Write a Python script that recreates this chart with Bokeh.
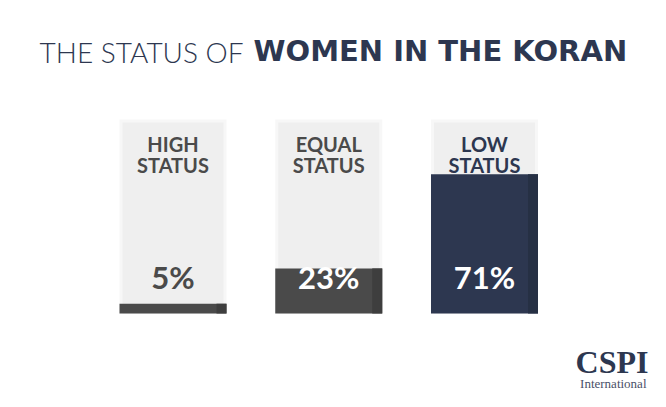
from bokeh.plotting import figure
from bokeh.models import Range1d, ColumnDataSource
from bokeh.core.properties import value
from bokeh.embed import file_html
from bokeh.resources import INLINE

# ---- data ----
categories = ["HIGH STATUS", "EQUAL STATUS", "LOW STATUS"]
percentages = [5, 23, 71]
title_light = "THE STATUS OF"
title_bold = "WOMEN IN THE KORAN"
logo_main = "CSPI"
logo_sub = "International"

# ---- styles ----
NAVY = "#2d3750"
GRAY = "#4a4a4a"
bar_colors = [GRAY, GRAY, NAVY]
shade_colors = ["#3e3e3e", "#3e3e3e", "#263044"]
label_colors = [GRAY, GRAY, NAVY]
pct_colors = [GRAY, "white", "white"]

W, H = 650, 391
p = figure(width=W, height=H, output_backend="svg", toolbar_location=None,
           x_range=Range1d(0, W), y_range=Range1d(H, 0),
           x_axis_type=None, y_axis_type=None, min_border=0,
           background_fill_color="white", border_fill_color="white")
p.outline_line_color = None
p.grid.visible = False

# percent scale: 0% at baseline, ~1.96 px per percentage point
base_px, px_per = 313, 1.96
p.extra_y_ranges = {"pct": Range1d(start=-(H - base_px) / px_per,
                                   end=base_px / px_per)}


def ty(baseline, fs):
    # text glyph baseline correction (empirical)
    return baseline - 0.42 * fs


n = len(categories)
centers = [172.5 + i * 155.75 for i in range(n)]

# background panels
p.quad(left=[c - 53.5 for c in centers], right=[c + 53.5 for c in centers],
       top=[119] * n, bottom=[base_px] * n, fill_color="#f7f7f7", line_color=None)
p.quad(left=[c - 50.5 for c in centers], right=[c + 50.5 for c in centers],
       top=[122] * n, bottom=[base_px] * n, fill_color="#efefef", line_color=None)

src = ColumnDataSource(dict(x=centers, top=percentages, color=bar_colors,
                            shade_x=[c + 48.5 for c in centers], shade=shade_colors))
p.vbar(x="x", top="top", bottom=0, width=107, fill_color="color", line_color=None,
       source=src, y_range_name="pct")
p.vbar(x="shade_x", top="top", bottom=0, width=10, fill_color="shade", line_color=None,
       source=src, y_range_name="pct")

# category labels (two lines)
line1 = [c.split(" ")[0] for c in categories]
line2 = [c.split(" ")[1] for c in categories]
p.text(x=centers, y=[ty(152, 20)] * n, text=line1, text_color=label_colors,
       text_font=value("Lato"), text_font_style="bold", text_font_size="20px",
       text_align="center", text_baseline="alphabetic")
p.text(x=centers, y=[ty(173, 20)] * n, text=line2, text_color=label_colors,
       text_font=value("Lato"), text_font_style="bold", text_font_size="20px",
       text_align="center", text_baseline="alphabetic")

# percentage labels
p.text(x=centers, y=[ty(290, 31)] * n, text=[f"{v}%" for v in percentages],
       text_color=pct_colors,
       text_font=value("Lato"), text_font_style="bold", text_font_size="31px",
       text_align="center", text_baseline="alphabetic")

# title
p.text(x=[243], y=[ty(63, 28)], text=[title_light], text_color=NAVY,
       text_font=value("Lato Light"), text_font_size="28px",
       text_align="right", text_baseline="alphabetic")
p.text(x=[253], y=[ty(63, 29)], text=[title_bold], text_color=NAVY,
       text_font=value("DejaVu Sans"), text_font_style="bold", text_font_size="29px",
       text_align="left", text_baseline="alphabetic")

# logo
p.text(x=[648], y=[ty(375, 32)], text=[logo_main], text_color=NAVY,
       text_font=value("Liberation Serif"), text_font_style="bold", text_font_size="32px",
       text_align="right", text_baseline="alphabetic")
p.text(x=[646], y=[ty(388, 13)], text=[logo_sub], text_color="#4a5068",
       text_font=value("Liberation Serif"), text_font_size="13px",
       text_align="right", text_baseline="alphabetic")

open("out.html", "w").write(file_html(p, INLINE))
